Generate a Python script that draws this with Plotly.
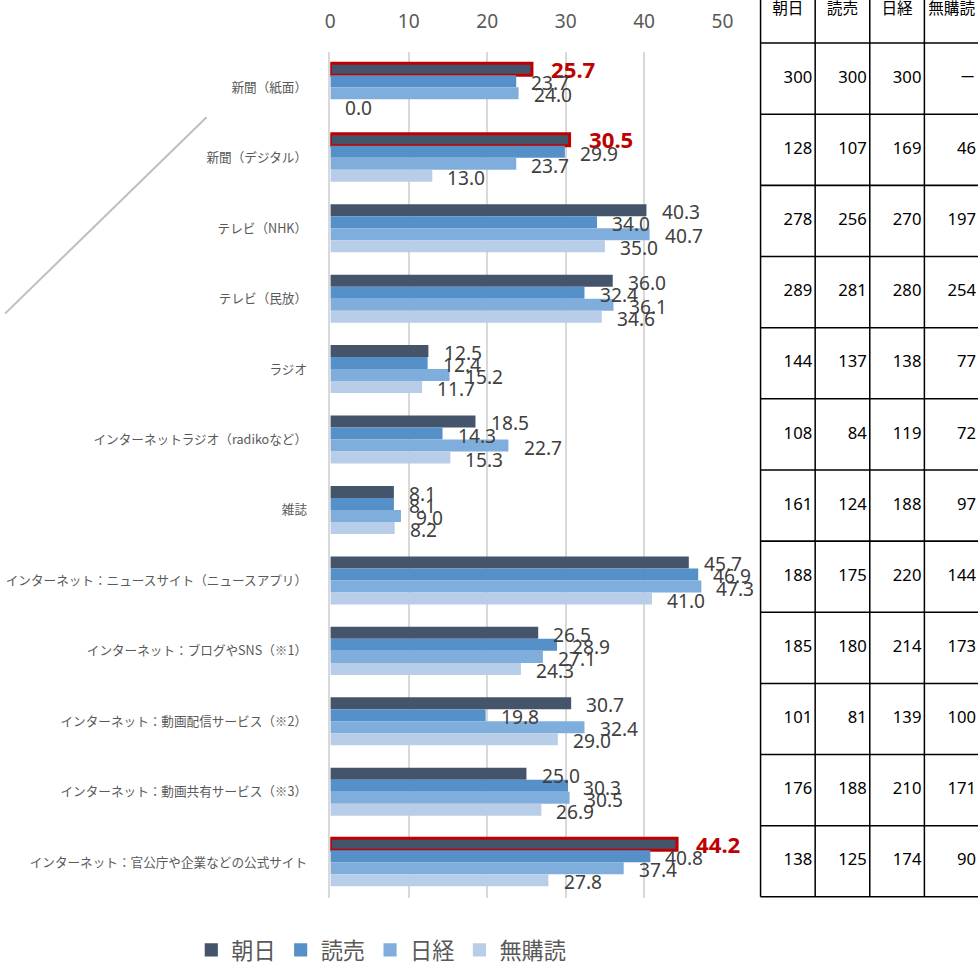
import plotly.graph_objects as go

categories = [
    "新聞（紙面）",
    "新聞（デジタル）",
    "テレビ（NHK）",
    "テレビ（民放）",
    "ラジオ",
    "インターネットラジオ（radikoなど）",
    "雑誌",
    "インターネット：ニュースサイト（ニュースアプリ）",
    "インターネット：ブログやSNS（※1）",
    "インターネット：動画配信サービス（※2）",
    "インターネット：動画共有サービス（※3）",
    "インターネット：官公庁や企業などの公式サイト",
]
series_names = ["朝日", "読売", "日経", "無購読"]
asahi = [25.7, 30.5, 40.3, 36.0, 12.5, 18.5, 8.1, 45.7, 26.5, 30.7, 25.0, 44.2]
yomiuri = [23.7, 29.9, 34.0, 32.4, 12.4, 14.3, 8.1, 46.9, 28.9, 19.8, 30.3, 40.8]
nikkei = [24.0, 23.7, 40.7, 36.1, 15.2, 22.7, 9.0, 47.3, 27.1, 32.4, 30.5, 37.4]
mukoudoku = [0.0, 13.0, 35.0, 34.6, 11.7, 15.3, 8.2, 41.0, 24.3, 29.0, 26.9, 27.8]
highlighted = ["新聞（紙面）", "新聞（デジタル）", "インターネット：官公庁や企業などの公式サイト"]

x_ticks = [0, 10, 20, 30, 40, 50]

table_header = ["朝日", "読売", "日経", "無購読"]
n_asahi = ["300", "128", "278", "289", "144", "108", "161", "188", "185", "101", "176", "138"]
n_yomiuri = ["300", "107", "256", "281", "137", "84", "124", "175", "180", "81", "188", "125"]
n_nikkei = ["300", "169", "270", "280", "138", "119", "188", "220", "214", "139", "210", "174"]
n_mukoudoku = ["－", "46", "197", "254", "77", "72", "97", "144", "173", "100", "171", "90"]

colors = ["#44546A", "#5590C8", "#80AEDC", "#B7CDE8"]

# design grid (reference pixels) and render scale
W, H = 980, 962
S = 1.0092
FW, FH = round(W * S), round(H * S)


def sz(v):
    return v * S


values = [asahi, yomiuri, nikkei, mukoudoku]

fig = go.Figure()
for j, (name, vals) in enumerate(zip(series_names, values)):
    if j == 0:
        lw = [sz(3) if c in highlighted else 0 for c in categories]
    else:
        lw = [0] * len(categories)
    fig.add_trace(go.Bar(
        y=categories, x=vals, name=name, orientation="h",
        marker=dict(color=colors[j], line=dict(color="#C00000", width=lw)),
        xaxis="x", yaxis="y", hoverinfo="x+name", showlegend=False,
    ))

# legend entries (plain squares)
for j, name in enumerate(series_names):
    fig.add_trace(go.Scatter(
        x=[None], y=[None], mode="markers", name=name,
        marker=dict(symbol="square", size=sz(13), color=colors[j]),
        xaxis="x", yaxis="y", showlegend=True, hoverinfo="skip",
    ))

# data labels
annotations = []
bar_px = 12
for j, vals in enumerate(values):
    for c, v in zip(categories, vals):
        hl = (j == 0 and c in highlighted)
        annotations.append(dict(
            x=v, y=c, xref="x", yref="y", text=f"{v:.1f}", showarrow=False,
            xanchor="left", yanchor="middle",
            xshift=sz(17 if hl else 13),
            yshift=sz((1.5 - j) * bar_px - (0 if hl else 2)),
            font=dict(family="Noto Sans", size=sz(22 if hl else 19),
                      color="#C00000" if hl else "#404040",
                      weight="bold" if hl else "normal"),
        ))

# table (right side)
col_w_px, left_px, head_px, row_px = 55, 761, 43, 71
x2_dom = [0.76, 1.0]
x2_range = [(x2_dom[0] * W - left_px) / col_w_px, (x2_dom[1] * W - left_px) / col_w_px]
y2_range = [(H - head_px) / row_px, (0 - head_px) / row_px]
pad = 3 / col_w_px
for k, col in enumerate([n_asahi, n_yomiuri, n_nikkei, n_mukoudoku]):
    fig.add_trace(go.Scatter(
        x=[k + 1 - pad] * len(col), y=[i + 0.5 for i in range(len(col))],
        mode="text", text=col, textposition="middle left",
        textfont=dict(family="Noto Sans, Noto Sans CJK JP", size=sz(16.5), color="#000000"),
        xaxis="x2", yaxis="y2", showlegend=False, hoverinfo="skip",
    ))
fig.add_trace(go.Scatter(
    x=[k + 0.5 for k in range(len(table_header))], y=[(10 - head_px) / row_px] * len(table_header),
    mode="text", text=table_header, textposition="middle center",
    textfont=dict(family="Noto Sans CJK JP", size=sz(15.5), color="#000000"),
    xaxis="x2", yaxis="y2", showlegend=False, hoverinfo="skip",
))

shapes = []
for r in range(len(categories) + 1):
    shapes.append(dict(type="line", xref="x2", yref="y2", x0=0, x1=len(table_header) + 0.5,
                       y0=r, y1=r, line=dict(color="#000000", width=sz(1.5))))
for k in range(len(table_header) + 1):
    shapes.append(dict(type="line", xref="x2", yref="y2", x0=k, x1=k,
                       y0=-1, y1=len(categories), line=dict(color="#000000", width=sz(1.5))))
# diagonal decoration
shapes.append(dict(type="line", xref="paper", yref="paper", x0=0, y0=1 - 313 / H,
                   x1=203 / W, y1=1 - 117 / H, line=dict(color="#BFBFBF", width=sz(2))))

fig.update_layout(
    width=FW, height=FH,
    margin=dict(l=0, r=0, t=0, b=0),
    paper_bgcolor="white", plot_bgcolor="white",
    barmode="group", bargap=0.318, bargroupgap=0,
    xaxis=dict(domain=[327.7 / W, 722.7 / W], range=[0, 50], side="top",
               tickvals=x_ticks, showgrid=True, gridcolor="#D9D9D9", gridwidth=sz(1.5),
               zeroline=False, showline=False, ticks="",
               tickfont=dict(family="Noto Sans", size=sz(19), color="#595959"),
               ticklabelstandoff=round(sz(19)), anchor="y"),
    yaxis=dict(domain=[1 - 896 / H, 1 - 52 / H], autorange="reversed", type="category",
               showgrid=False, zeroline=False, showline=True, linecolor="#D9D9D9", linewidth=sz(1.5),
               ticks="", ticklabelstandoff=round(sz(19)),
               tickfont=dict(family="Noto Sans CJK JP", size=sz(12.5), color="#595959"),
               anchor="x"),
    xaxis2=dict(domain=x2_dom, range=x2_range, visible=False, anchor="y2"),
    yaxis2=dict(domain=[0, 1], range=y2_range, visible=False, anchor="x2"),
    legend=dict(orientation="h", x=379 / W, xanchor="center", y=1 - 948 / H, yanchor="middle",
                font=dict(family="Noto Sans CJK JP", size=sz(22), color="#595959"),
                itemwidth=30, traceorder="normal"),
    annotations=annotations,
    shapes=shapes,
    showlegend=True,
)

post = "document.body.style.margin='0px';document.body.style.overflow='hidden';"
fig.write_html("out.html", post_script=post, config={"displayModeBar": False})
